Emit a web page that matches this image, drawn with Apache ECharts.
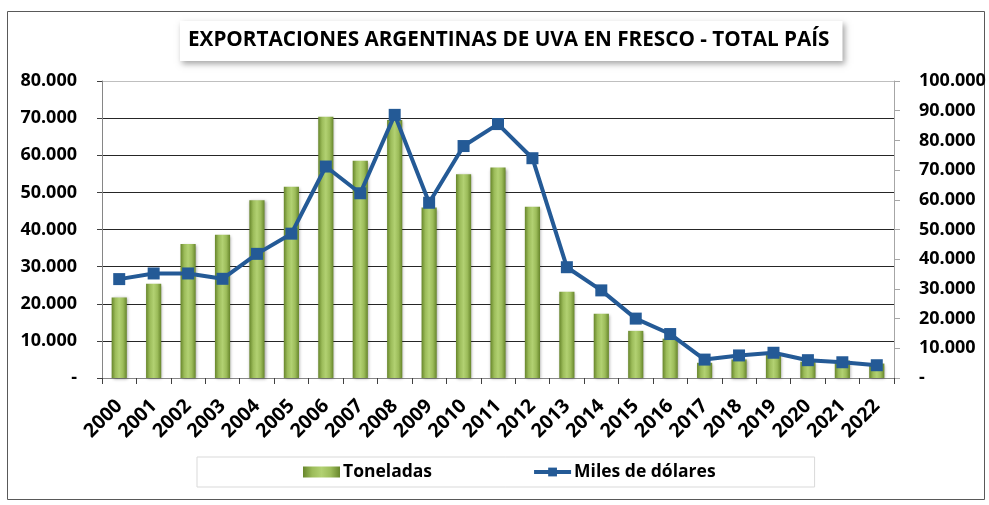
<!DOCTYPE html>
<html>
<head>
<meta charset="utf-8">
<script src="https://cdn.jsdelivr.net/npm/echarts@6/dist/echarts.min.js"></script>
<style>
html,body{margin:0;padding:0;background:#fff;}
#chart{width:989px;height:505px;}
</style>
</head>
<body>
<div id="chart"></div>
<script>
const years = ['2000','2001','2002','2003','2004','2005','2006','2007','2008','2009','2010','2011','2012','2013','2014','2015','2016','2017','2018','2019','2020','2021','2022'];
const toneladas = [21700, 25400, 36100, 38600, 47900, 51500, 70400, 58500, 69500, 45900, 54900, 56700, 46100, 23200, 17300, 12700, 10600, 4100, 5000, 6200, 4400, 4700, 3900];
const milesDolares = [33300, 35200, 35200, 33400, 41800, 48600, 71200, 62200, 88600, 59000, 78100, 85500, 74000, 37300, 29500, 20000, 14800, 6200, 7600, 8500, 6000, 5300, 4300];
const titleText = 'EXPORTACIONES ARGENTINAS DE UVA EN FRESCO - TOTAL PAÍS';
const seriesNames = ['Toneladas', 'Miles de dólares'];

const FONT = '"Open Sans", "DejaVu Sans", sans-serif';
function fmt(v) {
  if (v === 0) return '-';
  return String(Math.round(v)).replace(/\B(?=(\d{3})+(?!\d))/g, '.');
}

const chart = echarts.init(document.getElementById('chart'), null, {renderer: 'canvas'});
const barGrad = new echarts.graphic.LinearGradient(0, 0, 1, 0, [
  {offset: 0, color: '#67862b'},
  {offset: 0.25, color: '#9cbc5a'},
  {offset: 0.5, color: '#b2d172'},
  {offset: 0.75, color: '#9cbc5a'},
  {offset: 1, color: '#67862b'}
]);

chart.setOption({
  animation: false,
  backgroundColor: '#fff',
  textStyle: {fontFamily: FONT},
  graphic: [{
    type: 'rect',
    shape: {x: 7.5, y: 11.5, width: 977, height: 488},
    style: {fill: 'none', stroke: '#595959', lineWidth: 1},
    z: -1
  }],
  title: {
    text: titleText,
    left: 180,
    top: 21,
    padding: [9, 13, 10, 8],
    backgroundColor: '#fff',
    shadowBlur: 6,
    shadowColor: 'rgba(0,0,0,0.35)',
    shadowOffsetX: 2,
    shadowOffsetY: 3,
    textStyle: {fontFamily: FONT, fontWeight: 'bold', fontSize: 20.7, color: '#000'}
  },
  legend: {
    data: [
      {name: seriesNames[0], icon: 'rect'},
      {name: seriesNames[1]}
    ],
    left: 197,
    top: 457,
    padding: [6, 99, 6, 106],
    itemGap: 100,
    itemWidth: 37,
    itemHeight: 11,
    lineStyle: {width: 4},
    borderColor: '#d9d9d9',
    borderWidth: 1,
    backgroundColor: '#fff',
    textStyle: {fontFamily: FONT, fontWeight: 'bold', fontSize: 17.5, color: '#000', padding: [0, 0, 0, -2]}
  },
  grid: {left: 102, right: 95, top: 81, bottom: 127, containLabel: false},
  xAxis: {
    type: 'category',
    data: years,
    boundaryGap: true,
    axisLine: {lineStyle: {color: '#868686', width: 1}},
    axisTick: {show: true, length: 6, lineStyle: {color: '#404040'}},
    axisLabel: {
      rotate: 45,
      margin: 25,
      interval: 0,
      fontFamily: FONT,
      fontWeight: 'bold',
      fontSize: 19.5,
      color: '#000'
    }
  },
  yAxis: [{
    type: 'value',
    min: 0, max: 80000, interval: 10000,
    position: 'left',
    axisLine: {show: true, lineStyle: {color: '#868686'}},
    axisTick: {show: true, length: 5, lineStyle: {color: '#404040'}},
    axisLabel: {formatter: fmt, margin: 25, fontFamily: FONT, fontWeight: 'bold', fontSize: 18, color: '#000'},
    splitLine: {show: true, lineStyle: {color: ['#868686','#262626','#262626','#262626','#262626','#262626','#262626','#262626','#bfbfbf'], width: 1}}
  }, {
    type: 'value',
    min: 0, max: 100000, interval: 10000,
    position: 'right',
    axisLine: {show: true, lineStyle: {color: '#a6a6a6'}},
    axisTick: {show: true, length: 6, inside: false, lineStyle: {color: '#a6a6a6'}},
    axisLabel: {formatter: fmt, margin: 25, fontFamily: FONT, fontWeight: 'bold', fontSize: 18, color: '#000'},
    splitLine: {show: false}
  }],
  series: [{
    name: seriesNames[0],
    type: 'bar',
    yAxisIndex: 0,
    data: toneladas,
    barWidth: '44%',
    itemStyle: {
      color: barGrad,
      shadowBlur: 3,
      shadowColor: 'rgba(0,0,0,0.35)',
      shadowOffsetX: 1,
      shadowOffsetY: 1
    }
  }, {
    name: seriesNames[1],
    type: 'line',
    yAxisIndex: 1,
    data: milesDolares,
    symbol: 'rect',
    symbolSize: 12,
    lineStyle: {color: '#245a96', width: 4},
    itemStyle: {color: '#245a96'},
    z: 5
  }]
});
</script>
</body>
</html>
